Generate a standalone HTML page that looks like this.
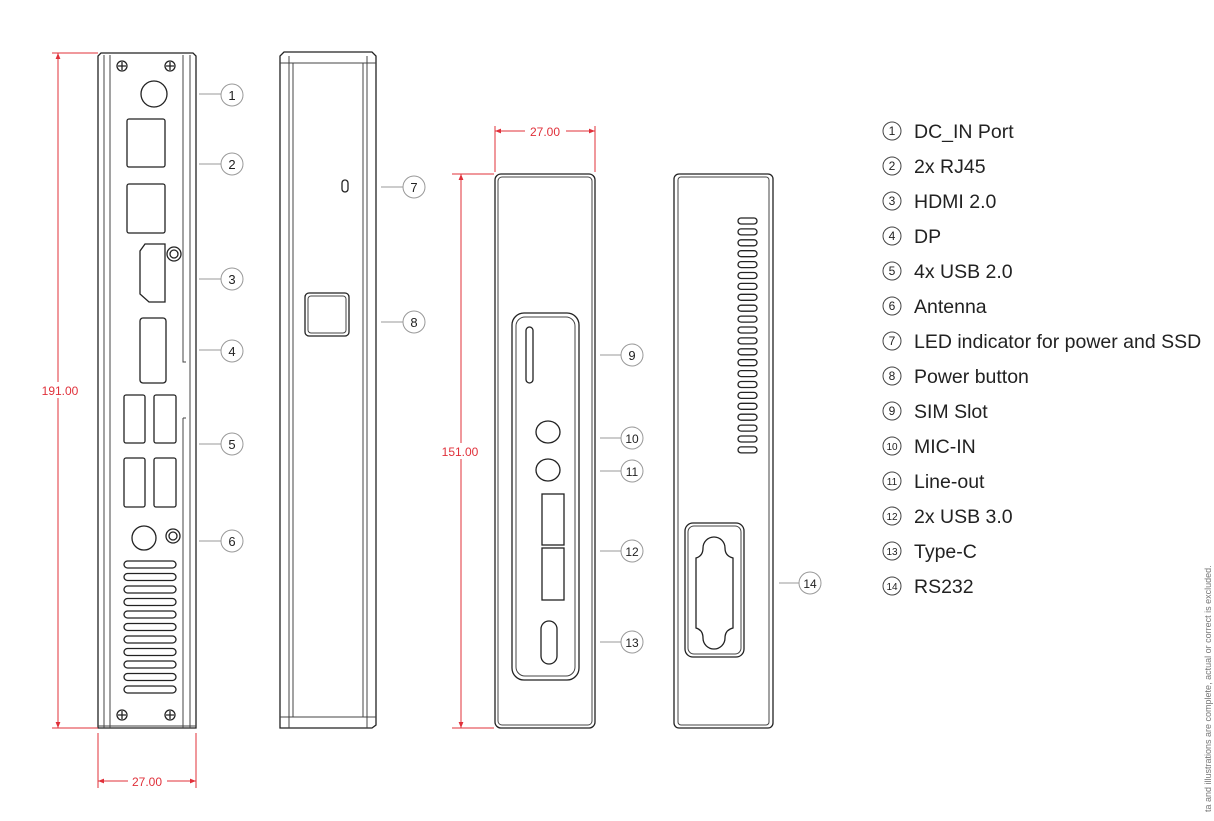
<!DOCTYPE html>
<html><head><meta charset="utf-8"><style>
html,body{margin:0;padding:0;background:#fff;}
svg{display:block;}
.o{fill:none;stroke:#222;stroke-width:1.3}
.t{fill:none;stroke:#444;stroke-width:1}
.g{fill:none;stroke:#999;stroke-width:1}
.r{stroke:#e0303a;stroke-width:1;fill:none}
.rt{fill:#e0303a;font-family:"Liberation Sans",sans-serif;font-size:12px}
.n{font-family:"Liberation Sans",sans-serif;font-size:13px;fill:#222;text-anchor:middle}
.lg{font-family:"Liberation Sans",sans-serif;font-size:19.5px;fill:#222}
.ln{font-family:"Liberation Sans",sans-serif;font-size:12px;fill:#222;text-anchor:middle}
</style></head><body>
<svg width="1214" height="821" viewBox="0 0 1214 821" xmlns="http://www.w3.org/2000/svg">
<defs>
<marker id="a" viewBox="0 0 10 10" refX="10" refY="5" markerWidth="8" markerHeight="6" orient="auto-start-reverse"><path d="M0,1 L10,5 L0,9z" fill="#e0303a"/></marker>
</defs>

<!-- Panel 1 -->
<path class="o" d="M98,728 L98,56 L101,53 L193,53 L196,56 L196,728 Z"/>
<line class="t" x1="104" y1="55" x2="104" y2="728"/>
<line class="t" x1="110" y1="55" x2="110" y2="728"/>
<line class="t" x1="190" y1="55" x2="190" y2="728"/>
<path class="t" d="M183,55 L183,362 L186,362"/>
<path class="t" d="M186,418 L183,418"/>
<line class="t" x1="183" y1="418" x2="183" y2="728"/>
<line class="t" x1="98" y1="726" x2="196" y2="726"/>
<g class="o">
<circle cx="122" cy="66" r="5"/><circle cx="170" cy="66" r="5"/><circle cx="122" cy="715" r="5"/><circle cx="170" cy="715" r="5"/>
</g>
<g stroke="#222" stroke-width="1.3"><path d="M118,66h8M122,62v8M166,66h8M170,62v8M118,715h8M122,711v8M166,715h8M170,711v8"/></g>
<circle class="o" cx="154" cy="94" r="13"/>
<rect class="o" x="127" y="119" width="38" height="48" rx="2"/>
<rect class="o" x="127" y="184" width="38" height="49" rx="2"/>
<path class="o" d="M145,244 L165,244 L165,302 L149,302 L140,294 L140,251 Z"/>
<circle class="o" cx="174" cy="254" r="7"/><circle class="o" cx="174" cy="254" r="4"/>
<rect class="o" x="140" y="318" width="26" height="65" rx="3"/>
<rect class="o" x="124" y="395" width="21" height="48" rx="2"/>
<rect class="o" x="154" y="395" width="22" height="48" rx="2"/>
<rect class="o" x="124" y="458" width="21" height="49" rx="2"/>
<rect class="o" x="154" y="458" width="22" height="49" rx="2"/>
<circle class="o" cx="144" cy="538" r="12"/>
<circle class="o" cx="173" cy="536" r="7"/><circle class="o" cx="173" cy="536" r="4"/>
<g class="o">
<rect x="124" y="561" width="52" height="7" rx="3.5"/>
<rect x="124" y="573.5" width="52" height="7" rx="3.5"/>
<rect x="124" y="586" width="52" height="7" rx="3.5"/>
<rect x="124" y="598.5" width="52" height="7" rx="3.5"/>
<rect x="124" y="611" width="52" height="7" rx="3.5"/>
<rect x="124" y="623.5" width="52" height="7" rx="3.5"/>
<rect x="124" y="636" width="52" height="7" rx="3.5"/>
<rect x="124" y="648.5" width="52" height="7" rx="3.5"/>
<rect x="124" y="661" width="52" height="7" rx="3.5"/>
<rect x="124" y="673.5" width="52" height="7" rx="3.5"/>
<rect x="124" y="686" width="52" height="7" rx="3.5"/>
</g>
<g class="g">
<line x1="199" y1="94" x2="221" y2="94"/><circle cx="232" cy="95" r="11"/>
<line x1="199" y1="164" x2="221" y2="164"/><circle cx="232" cy="164" r="11"/>
<line x1="199" y1="279" x2="221" y2="279"/><circle cx="232" cy="279" r="11"/>
<line x1="199" y1="350" x2="221" y2="350"/><circle cx="232" cy="351" r="11"/>
<line x1="199" y1="444" x2="221" y2="444"/><circle cx="232" cy="444" r="11"/>
<line x1="199" y1="541" x2="221" y2="541"/><circle cx="232" cy="541" r="11"/>
</g>
<text class="n" x="232" y="100">1</text><text class="n" x="232" y="169">2</text><text class="n" x="232" y="284">3</text>
<text class="n" x="232" y="356">4</text><text class="n" x="232" y="449">5</text><text class="n" x="232" y="546">6</text>
<line class="r" x1="52" y1="53" x2="98" y2="53"/><line class="r" x1="52" y1="728" x2="98" y2="728"/>
<line class="r" x1="58" y1="382" x2="58" y2="53" marker-end="url(#a)"/>
<line class="r" x1="58" y1="398" x2="58" y2="728" marker-end="url(#a)"/>
<text class="rt" x="60" y="395" text-anchor="middle">191.00</text>
<line class="r" x1="98" y1="733" x2="98" y2="788"/><line class="r" x1="196" y1="733" x2="196" y2="788"/>
<line class="r" x1="128" y1="781" x2="98" y2="781" marker-end="url(#a)"/>
<line class="r" x1="167" y1="781" x2="196" y2="781" marker-end="url(#a)"/>
<text class="rt" x="147" y="786" text-anchor="middle">27.00</text>

<!-- Panel 2 -->
<path class="o" d="M280,728 L280,56 L284,52 L372,52 L376,56 L376,725 L372,728 Z" />
<line class="t" x1="280" y1="63" x2="376" y2="63"/><line class="t" x1="280" y1="717" x2="376" y2="717"/>
<line class="t" x1="289" y1="56" x2="289" y2="728"/><line class="t" x1="293" y1="63" x2="293" y2="717"/>
<line class="t" x1="363" y1="63" x2="363" y2="717"/><line class="t" x1="367" y1="56" x2="367" y2="728"/>
<rect class="o" x="342" y="180" width="6" height="12" rx="3"/>
<rect class="o" x="305" y="293" width="44" height="43" rx="4"/>
<rect class="t" x="308" y="296" width="38" height="37" rx="3"/>
<g class="g"><line x1="381" y1="187" x2="403" y2="187"/><circle cx="414" cy="187" r="11"/>
<line x1="381" y1="322" x2="403" y2="322"/><circle cx="414" cy="322" r="11"/></g>
<text class="n" x="414" y="192">7</text><text class="n" x="414" y="327">8</text>

<!-- Panel 3 -->
<rect class="o" x="495" y="174" width="100" height="554" rx="6"/>
<rect class="t" x="498" y="177" width="94" height="548" rx="4"/>
<rect class="o" x="512" y="313" width="67" height="367" rx="12"/>
<rect class="t" x="516" y="317" width="59" height="359" rx="9"/>
<rect class="o" x="526" y="327" width="7" height="56" rx="3.5"/>
<ellipse class="o" cx="548" cy="432" rx="12" ry="11"/>
<ellipse class="o" cx="548" cy="470" rx="12" ry="11"/>
<rect class="o" x="542" y="494" width="22" height="51"/>
<rect class="o" x="542" y="548" width="22" height="52"/>
<rect class="o" x="541" y="621" width="16" height="43" rx="8"/>
<g class="g">
<line x1="600" y1="355" x2="621" y2="355"/><circle cx="632" cy="355" r="11"/>
<line x1="600" y1="438" x2="621" y2="438"/><circle cx="632" cy="438" r="11"/>
<line x1="600" y1="471" x2="621" y2="471"/><circle cx="632" cy="471" r="11"/>
<line x1="600" y1="551" x2="621" y2="551"/><circle cx="632" cy="551" r="11"/>
<line x1="600" y1="642" x2="621" y2="642"/><circle cx="632" cy="642" r="11"/>
</g>
<text class="n" x="632" y="360">9</text><text class="n" x="632" y="443" style="font-size:12px">10</text>
<text class="n" x="632" y="476" style="font-size:12px">11</text><text class="n" x="632" y="556" style="font-size:12px">12</text>
<text class="n" x="632" y="647" style="font-size:12px">13</text>
<line class="r" x1="495" y1="126" x2="495" y2="172"/><line class="r" x1="595" y1="126" x2="595" y2="172"/>
<line class="r" x1="525" y1="131" x2="495" y2="131" marker-end="url(#a)"/>
<line class="r" x1="566" y1="131" x2="595" y2="131" marker-end="url(#a)"/>
<text class="rt" x="545" y="136" text-anchor="middle">27.00</text>
<line class="r" x1="452" y1="174" x2="494" y2="174"/><line class="r" x1="452" y1="728" x2="494" y2="728"/>
<line class="r" x1="461" y1="443" x2="461" y2="174" marker-end="url(#a)"/>
<line class="r" x1="461" y1="459" x2="461" y2="728" marker-end="url(#a)"/>
<text class="rt" x="460" y="456" text-anchor="middle">151.00</text>

<!-- Panel 4 -->
<rect class="o" x="674" y="174" width="99" height="554" rx="5"/>
<rect class="t" x="678" y="177" width="91" height="548" rx="3"/>
<g class="o">
<rect x="738" y="218" width="19" height="6" rx="3"/><rect x="738" y="228.9" width="19" height="6" rx="3"/>
<rect x="738" y="239.8" width="19" height="6" rx="3"/><rect x="738" y="250.7" width="19" height="6" rx="3"/>
<rect x="738" y="261.6" width="19" height="6" rx="3"/><rect x="738" y="272.5" width="19" height="6" rx="3"/>
<rect x="738" y="283.4" width="19" height="6" rx="3"/><rect x="738" y="294.3" width="19" height="6" rx="3"/>
<rect x="738" y="305.2" width="19" height="6" rx="3"/><rect x="738" y="316.1" width="19" height="6" rx="3"/>
<rect x="738" y="327" width="19" height="6" rx="3"/><rect x="738" y="337.9" width="19" height="6" rx="3"/>
<rect x="738" y="348.8" width="19" height="6" rx="3"/><rect x="738" y="359.7" width="19" height="6" rx="3"/>
<rect x="738" y="370.6" width="19" height="6" rx="3"/><rect x="738" y="381.5" width="19" height="6" rx="3"/>
<rect x="738" y="392.4" width="19" height="6" rx="3"/><rect x="738" y="403.3" width="19" height="6" rx="3"/>
<rect x="738" y="414.2" width="19" height="6" rx="3"/><rect x="738" y="425.1" width="19" height="6" rx="3"/>
<rect x="738" y="436" width="19" height="6" rx="3"/><rect x="738" y="446.9" width="19" height="6" rx="3"/>
</g>
<rect class="o" x="685" y="523" width="59" height="134" rx="8"/>
<rect class="t" x="688" y="526" width="53" height="128" rx="6"/>
<path class="o" d="M696,558 Q703,556 703,548 A11,11 0 0 1 725,548 Q725,556 733,558 L733,628 Q725,630 725,638 A11,11 0 0 1 703,638 Q703,630 696,628 Z"/>
<g class="g"><line x1="779" y1="583" x2="799" y2="583"/><circle cx="810" cy="583" r="11"/></g>
<text class="n" x="810" y="588" style="font-size:12px">14</text>

<!-- Legend -->
<g class="t" stroke="#333">
<circle cx="892" cy="131" r="9"/><circle cx="892" cy="166" r="9"/><circle cx="892" cy="201" r="9"/>
<circle cx="892" cy="236" r="9"/><circle cx="892" cy="271" r="9"/><circle cx="892" cy="306" r="9"/>
<circle cx="892" cy="341" r="9"/><circle cx="892" cy="376" r="9"/><circle cx="892" cy="411" r="9"/>
<circle cx="892" cy="446" r="9"/><circle cx="892" cy="481" r="9"/><circle cx="892" cy="516" r="9"/>
<circle cx="892" cy="551" r="9"/><circle cx="892" cy="586" r="9"/>
</g>
<text class="ln" x="892" y="135">1</text><text class="ln" x="892" y="170">2</text><text class="ln" x="892" y="205">3</text>
<text class="ln" x="892" y="240">4</text><text class="ln" x="892" y="275">5</text><text class="ln" x="892" y="310">6</text>
<text class="ln" x="892" y="345">7</text><text class="ln" x="892" y="380">8</text><text class="ln" x="892" y="415">9</text>
<text class="ln" x="892" y="450" style="font-size:10px">10</text><text class="ln" x="892" y="485" style="font-size:10px">11</text>
<text class="ln" x="892" y="520" style="font-size:10px">12</text><text class="ln" x="892" y="555" style="font-size:10px">13</text>
<text class="ln" x="892" y="590" style="font-size:10px">14</text>
<text class="lg" x="914" y="138">DC_IN Port</text>
<text class="lg" x="914" y="173">2x RJ45</text>
<text class="lg" x="914" y="208">HDMI 2.0</text>
<text class="lg" x="914" y="243">DP</text>
<text class="lg" x="914" y="278">4x USB 2.0</text>
<text class="lg" x="914" y="313">Antenna</text>
<text class="lg" x="914" y="348">LED indicator for power and SSD</text>
<text class="lg" x="914" y="383">Power button</text>
<text class="lg" x="914" y="418">SIM Slot</text>
<text class="lg" x="914" y="453">MIC-IN</text>
<text class="lg" x="914" y="488">Line-out</text>
<text class="lg" x="914" y="523">2x USB 3.0</text>
<text class="lg" x="914" y="558">Type-C</text>
<text class="lg" x="914" y="593">RS232</text>

<text x="1211" y="812" transform="rotate(-90 1211 812)" font-family="Liberation Sans,sans-serif" font-size="9" fill="#777">ta and illustrations are complete, actual or correct is excluded.</text>
</svg>
</body></html>
